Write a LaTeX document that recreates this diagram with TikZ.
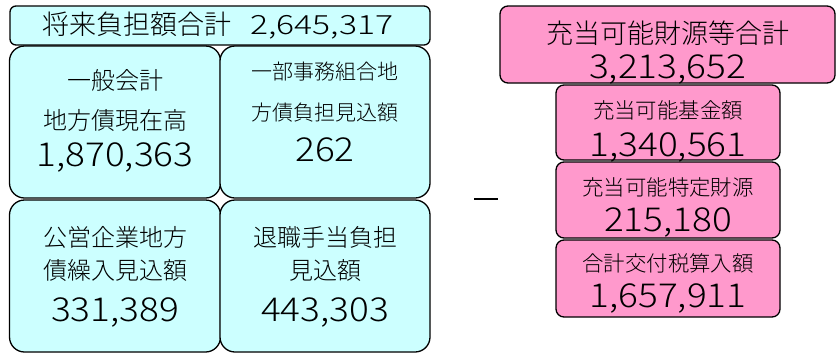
\documentclass[tikz,border=0pt]{standalone}
\usepackage{fontspec}
\usepackage{graphicx}
\setmainfont{Noto Sans CJK JP}
\newfontfamily\lightfont{Noto Sans CJK JP Light}
\definecolor{cyanfill}{HTML}{CCFFFF}
\definecolor{pinkfill}{HTML}{FF99CC}
\newcommand\wnum[1]{\scalebox{1.12}[1]{#1}}
\begin{document}
\begin{tikzpicture}[x=1pt,y=-1pt,
  cbox/.style={draw, line width=1.3pt, fill=cyanfill, rounded corners=15pt, inner sep=0pt, minimum width=#1},
  pbox/.style={draw, line width=1.3pt, fill=pinkfill, rounded corners=8pt, inner sep=0pt, minimum width=#1},
  lbl/.style={inner sep=0pt, font=\lightfont\fontsize{#1}{#1}\selectfont},
  ]
\useasboundingbox (0,0) rectangle (837,354);
% left boxes
\node[cbox=420pt, rounded corners=6pt, minimum height=39pt] (top) at (220,25.5) {};
\node[cbox=211pt, minimum height=152pt] (ul) at (115,122) {};
\node[cbox=210pt, minimum height=152pt] (ur) at (325,122) {};
\node[cbox=211pt, minimum height=152pt] (ll) at (115,276) {};
\node[cbox=210pt, minimum height=152pt] (lr) at (325,276) {};
\node[lbl=27pt, anchor=west] (toptxt) at (42,25.5) {将来負担額合計\hspace{19pt}\scalebox{1.27}[1]{\fontsize{26.5pt}{26.5pt}\selectfont 2,645,317}};
\node[lbl=24pt] (ul1) at (115,80) {一般会計};
\node[lbl=24pt] (ul2) at (115,120) {地方債現在高};
\node[lbl=33pt] (ul3) at (115,158) {\wnum{1,870,363}};
\node[lbl=21pt] (ur1) at (325,72) {一部事務組合地};
\node[lbl=21pt] (ur2) at (325,113) {方債負担見込額};
\node[lbl=33pt] (ur3) at (325,150) {\wnum{262}};
\node[lbl=24pt] (ll1) at (115,237) {公営企業地方};
\node[lbl=24pt] (ll2) at (115,270) {債繰入見込額};
\node[lbl=33pt] (ll3) at (115,312) {\wnum{331,389}};
\node[lbl=24pt] (lr1) at (325,237) {退職手当負担};
\node[lbl=24pt] (lr2) at (325,270) {見込額};
\node[lbl=33pt] (lr3) at (325,312) {\wnum{443,303}};
% minus
\coordinate (m1) at (474,199);
\coordinate (m2) at (498,199);
\draw[line width=2pt] (m1) -- (m2);
% right boxes
\node[pbox=335pt, minimum height=77pt] (p0) at (667.5,44.5) {};
\node[pbox=224pt, minimum height=75pt] (p1) at (668,122.5) {};
\node[pbox=224pt, minimum height=76pt] (p2) at (668,200) {};
\node[pbox=224pt, minimum height=77pt] (p3) at (668,278.5) {};
\node[lbl=27pt] (p0a) at (667.5,33) {充当可能財源等合計};
\node[lbl=33pt] (p0b) at (667.5,70) {\wnum{3,213,652}};
\node[lbl=21.4pt] (p1a) at (668,110) {充当可能基金額};
\node[lbl=33pt] (p1b) at (668,148) {\wnum{1,340,561}};
\node[lbl=21.4pt] (p2a) at (668,187) {充当可能特定財源};
\node[lbl=33pt] (p2b) at (668,223) {\wnum{215,180}};
\node[lbl=21.4pt] (p3a) at (668,263) {合計交付税算入額};
\node[lbl=33pt] (p3b) at (668,298) {\wnum{1,657,911}};
\end{tikzpicture}
\end{document}
